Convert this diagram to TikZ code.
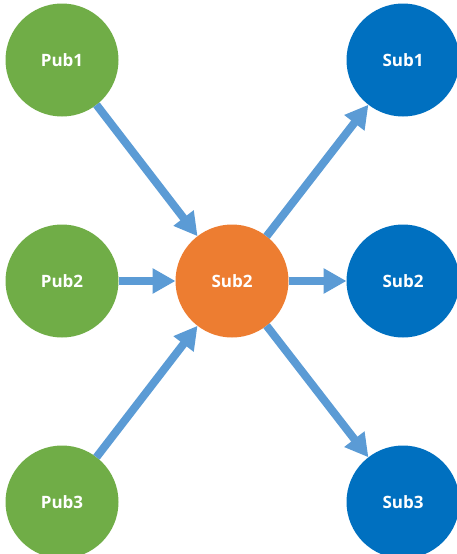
\documentclass[tikz,border=0pt]{standalone}
\usepackage{fontspec}
\setmainfont{Open Sans}
\usetikzlibrary{arrows.meta}
\definecolor{pubgreen}{HTML}{70AD47}
\definecolor{huborange}{HTML}{ED7D31}
\definecolor{subblue}{HTML}{0070C0}
\definecolor{flowblue}{HTML}{5B9BD5}
\begin{document}
\begin{tikzpicture}[x=1pt,y=-1pt,
  ball/.style={circle,minimum size=113pt,inner sep=0pt,outer sep=0pt,
    text=white,font=\bfseries\fontsize{17}{20}\selectfont},
  pub/.style={ball,fill=pubgreen},
  hub/.style={ball,fill=huborange},
  sub/.style={ball,fill=subblue},
  flow/.style={draw=flowblue,line width=8pt,
    -{Triangle[width=24pt,length=23pt]}}]
\useasboundingbox (0,0) rectangle (456,554);
% publishers
\node[pub] (p1) at (62,60) {Pub1};
\node[pub] (p2) at (62,281) {Pub2};
\node[pub] (p3) at (62,502) {Pub3};
% central subscriber
\node[hub] (c) at (232,281) {Sub2};
% subscribers
\node[sub] (s1) at (403,60) {Sub1};
\node[sub] (s2) at (403,281) {Sub2};
\node[sub] (s3) at (403,502) {Sub3};
% flows
\draw[flow] (p1) -- (c);
\draw[flow] (p2) -- (c);
\draw[flow] (p3) -- (c);
\draw[flow] (c) -- (s1);
\draw[flow] (c) -- (s2);
\draw[flow] (c) -- (s3);
\end{tikzpicture}
\end{document}
